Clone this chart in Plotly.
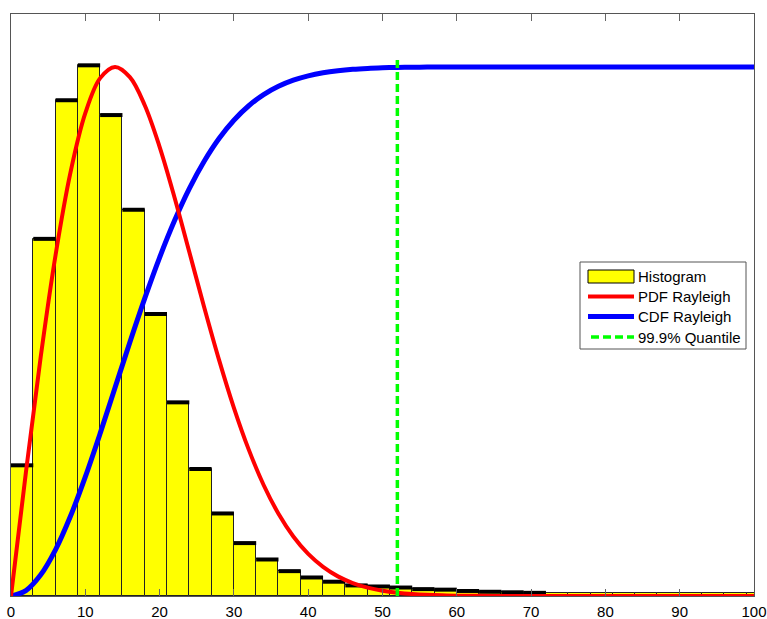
import plotly.graph_objects as go

# ---------------- data ----------------
bin_edges = [0, 3, 6, 9, 12, 15, 18, 21, 24, 27, 30, 33, 36, 39, 42, 45, 48,
             51, 54, 57, 60, 63, 66, 69, 72, 75, 78, 81, 84, 87, 90, 93, 96,
             99, 102]
hist_main = [0.247, 0.675, 0.937, 1.003, 0.909, 0.730, 0.533, 0.366, 0.240,
             0.156, 0.100, 0.069, 0.047, 0.035, 0.027, 0.020, 0.018, 0.016,
             0.013, 0.012, 0.0095, 0.008, 0.007, 0.006]
hist_tail = [0.0065, 0.0065, 0.0065, 0.0065, 0.0065, 0.0065, 0.0065, 0.0065,
             0.0065, 0.0065]

curve_x = [0, 2, 4, 6, 8, 10, 12, 14, 16, 18, 20, 22, 24, 26, 28, 30, 32, 34,
           36, 38, 40, 42, 44, 46, 48, 50, 52, 54, 56, 58, 60, 65, 70, 80, 90,
           100]
pdf_y = [0.0, 0.2331, 0.4522, 0.6446, 0.8002, 0.9125, 0.9788, 1.0, 0.9807,
         0.9276, 0.8490, 0.7537, 0.6502, 0.5458, 0.4463, 0.3557, 0.2766,
         0.2098, 0.1555, 0.1125, 0.0795, 0.0550, 0.0371, 0.0245, 0.0158,
         0.0100, 0.0062, 0.0037, 0.0022, 0.0013, 0.0007, 0.0002, 0.0, 0.0,
         0.0, 0.0]
cdf_y = [0.0, 0.0102, 0.0400, 0.0877, 0.1506, 0.2252, 0.3074, 0.3935, 0.4796,
         0.5624, 0.6396, 0.7091, 0.7700, 0.8217, 0.8647, 0.8993, 0.9266,
         0.9476, 0.9633, 0.9749, 0.9831, 0.9889, 0.9928, 0.9955, 0.9972,
         0.9983, 0.9990, 0.9994, 0.9997, 0.9998, 0.9999, 1.0, 1.0, 1.0, 1.0,
         1.0]
quantile_x = [52.0, 52.0]
quantile_y = [0.0, 1.02]

x_ticks = [0, 10, 20, 30, 40, 50, 60, 70, 80, 90, 100]
legend_labels = ["Histogram", "PDF Rayleigh", "CDF Rayleigh", "99.9% Quantile"]

# ---------------- build figure ----------------
FONT = "Liberation Sans, Arial, sans-serif"
W, H = 767, 619
ML, MR, MT, MB = 11, 13, 14, 23
PW, PH = W - ML - MR, H - MT - MB


def pxx(v):
    return (v - ML) / PW


def pxy(v):
    return (H - MB - v) / PH


heights = hist_main + hist_tail
centers = [(bin_edges[i] + bin_edges[i + 1]) / 2 for i in range(len(heights))]
widths = [bin_edges[i + 1] - bin_edges[i] for i in range(len(heights))]

fig = go.Figure()
fig.add_trace(go.Bar(
    x=centers, y=heights, width=widths,
    marker=dict(color="#FFFF00", line=dict(color="#222222", width=1)),
    showlegend=False, hoverinfo="skip"))

top_x, top_y = [], []
for i, h in enumerate(hist_main):
    top_x += [bin_edges[i], bin_edges[i + 1], None]
    top_y += [h, h, None]
fig.add_trace(go.Scatter(x=top_x, y=top_y, mode="lines",
                         line=dict(color="black", width=4),
                         showlegend=False, hoverinfo="skip"))

fig.add_trace(go.Scatter(x=curve_x, y=cdf_y, mode="lines",
                         line=dict(color="#0000FF", width=5, shape="spline"),
                         showlegend=False))
fig.add_trace(go.Scatter(x=curve_x, y=pdf_y, mode="lines",
                         line=dict(color="#FF0000", width=4, shape="spline"),
                         showlegend=False))
fig.add_trace(go.Scatter(x=quantile_x, y=quantile_y, mode="lines",
                         line=dict(color="#00FF00", width=3.5, dash="8px,4px"),
                         showlegend=False))

# manual legend (MATLAB style)
shapes = [
    dict(type="rect", xref="paper", yref="paper", layer="above",
         x0=pxx(580), x1=pxx(746), y0=pxy(349), y1=pxy(262),
         line=dict(color="#555555", width=1), fillcolor="white"),
    dict(type="rect", xref="paper", yref="paper", layer="above",
         x0=pxx(588), x1=pxx(634), y0=pxy(283), y1=pxy(270),
         line=dict(color="black", width=1), fillcolor="#FFFF00"),
    dict(type="line", xref="paper", yref="paper", layer="above",
         x0=pxx(588), x1=pxx(634), y0=pxy(296.5), y1=pxy(296.5),
         line=dict(color="#FF0000", width=4)),
    dict(type="line", xref="paper", yref="paper", layer="above",
         x0=pxx(588), x1=pxx(634), y0=pxy(316.5), y1=pxy(316.5),
         line=dict(color="#0000FF", width=5)),
    dict(type="line", xref="paper", yref="paper", layer="above",
         x0=pxx(591), x1=pxx(634), y0=pxy(337), y1=pxy(337),
         line=dict(color="#00FF00", width=3.5, dash="8px,4px")),
]
row_y = [276.5, 296.5, 316.5, 337]
annotations = [
    dict(xref="paper", yref="paper", x=pxx(636), y=pxy(ry), text=lab,
         xanchor="left", yanchor="middle", showarrow=False,
         font=dict(family=FONT, size=15, color="black"))
    for lab, ry in zip(legend_labels, row_y)
]

fig.update_layout(
    width=W, height=H,
    margin=dict(l=ML, r=MR, t=MT, b=MB, pad=0, autoexpand=False),
    plot_bgcolor="white", paper_bgcolor="white",
    bargap=0, showlegend=False,
    shapes=shapes, annotations=annotations,
    font=dict(family=FONT, size=14, color="black"),
    xaxis=dict(range=[0, 100], tickvals=x_ticks, ticks="inside", ticklen=7,
               tickcolor="#666666", tickwidth=1, showline=True,
               linecolor="#555555", linewidth=1, mirror="ticks",
               showgrid=False, zeroline=False, automargin=False,
               ticklabelstandoff=2, ticklabeloverflow="allow",
               tickfont=dict(family=FONT, size=15, color="black")),
    yaxis=dict(range=[0, 1.1], showticklabels=False, ticks="",
               showline=True, linecolor="#555555", linewidth=1, mirror=True,
               showgrid=False, zeroline=False, automargin=False),
)

fig.write_html(
    "out.html",
    config={"displayModeBar": False},
    post_script="document.body.style.margin='0';document.body.style.overflow='hidden';",
)
